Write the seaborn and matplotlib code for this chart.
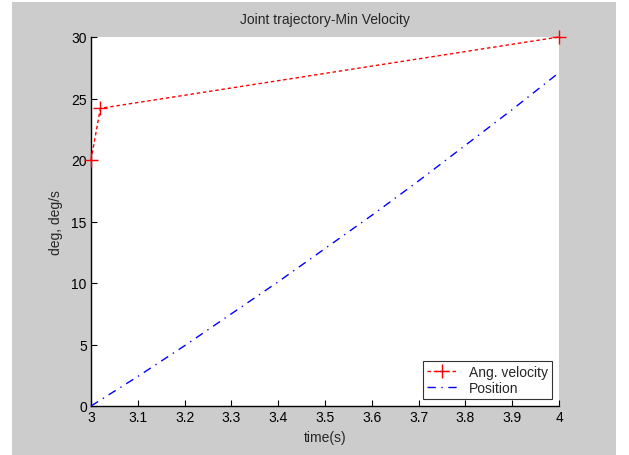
import numpy as np
import pandas as pd
import seaborn as sns
import matplotlib.pyplot as plt
from matplotlib.patches import Rectangle

# values
vel_t = [3.0, 3.02, 4.0]
vel_v = [20.0, 24.2, 30.0]

pos_t = [3.0, 3.1, 3.2, 3.3, 3.4, 3.5, 3.6, 3.7, 3.8, 3.9, 4.0]
pos_v = [0.0, 2.4, 4.9, 7.5, 10.1, 12.8, 15.5, 18.3, 21.2, 24.1, 27.1]

xticks = [3, 3.1, 3.2, 3.3, 3.4, 3.5, 3.6, 3.7, 3.8, 3.9, 4]
xtick_labels = ["3", "3.1", "3.2", "3.3", "3.4", "3.5", "3.6", "3.7", "3.8", "3.9", "4"]
yticks = [0, 5, 10, 15, 20, 25, 30]

sns.set_style("ticks")
plt.rcParams['font.family'] = ['Liberation Sans', 'DejaVu Sans']
plt.rcParams['font.size'] = 10

fig = plt.figure(figsize=(6.29, 4.56), dpi=100)
fig.patch.set_facecolor("white")
# grey figure area like the MATLAB window
fig.patches.append(Rectangle((12 / 629, 0), (616 - 12) / 629, (456 - 3) / 456,
                             transform=fig.transFigure, facecolor="#cccccc",
                             edgecolor="none", zorder=-10))

ax = fig.add_axes([91 / 629, (456 - 407) / 456, (559 - 91) / 629, (407 - 38) / 456])
ax.set_facecolor("white")

vel = pd.DataFrame({"t": vel_t, "v": vel_v})
pos = pd.DataFrame({"t": pos_t, "v": pos_v})

sns.lineplot(data=vel, x="t", y="v", ax=ax, color="red", linestyle=(0, (2.5, 2)),
             linewidth=1, marker="+", markersize=10, markeredgewidth=1,
             markeredgecolor="red", markerfacecolor="red",
             clip_on=False, label="Ang. velocity", zorder=5)
sns.lineplot(data=pos, x="t", y="v", ax=ax, color="blue", linestyle=(0, (6, 4, 1, 4)),
             linewidth=1, clip_on=False, label="Position", zorder=4)

ax.set_xlim(3, 4)
ax.set_ylim(0, 30)
ax.set_xticks(xticks)
ax.set_xticklabels(xtick_labels)
ax.set_yticks(yticks)
ax.tick_params(direction="in", length=4, width=0.8, colors="black", labelsize=10, pad=3)
for s in ["top", "right"]:
    ax.spines[s].set_visible(False)
for s in ["left", "bottom"]:
    ax.spines[s].set_color("black")
    ax.spines[s].set_linewidth(1)

ax.set_title("Joint trajectory-Min Velocity", fontsize=10, pad=10)
ax.set_xlabel("time(s)", fontsize=10, labelpad=4)
ax.set_ylabel("deg, deg/s", fontsize=10, labelpad=6)

leg = ax.legend(loc="lower right", frameon=True, fancybox=False, fontsize=10,
                borderpad=0.3, handlelength=2.2, handletextpad=0.8, labelspacing=0.15,
                borderaxespad=0, bbox_to_anchor=(0.985, 0.019))
leg.get_frame().set_edgecolor("black")
leg.get_frame().set_linewidth(0.8)

fig.savefig("out.png", dpi=100, facecolor=fig.get_facecolor())
